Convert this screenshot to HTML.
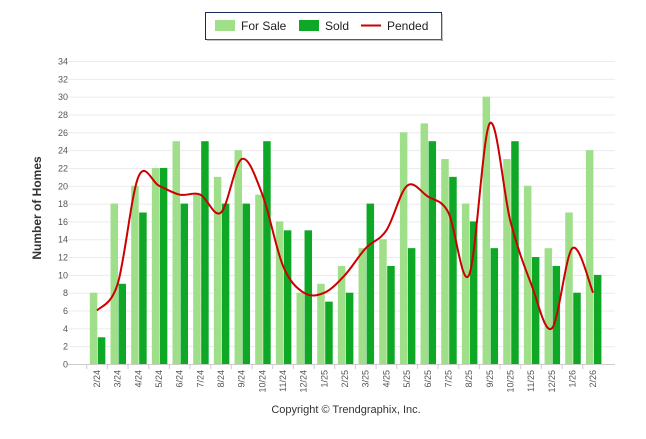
<!DOCTYPE html>
<html><head><meta charset="utf-8">
<style>
body{margin:0;background:#fff;font-family:"Liberation Sans",sans-serif;}
svg text{font-family:"Liberation Sans",sans-serif;}
</style></head>
<body>
<svg id="chart" width="646" height="434" xmlns="http://www.w3.org/2000/svg">
<g>
<rect x="205.5" y="12.5" width="236" height="27" fill="#fff" stroke="#1a2a5a" stroke-width="1"/>
<rect x="207" y="39" width="236" height="2" fill="#888" opacity="0.5"/>
<rect x="441" y="14" width="2" height="27" fill="#888" opacity="0.5"/>
<g><rect x="215" y="20" width="20" height="11" fill="#a0df8a"/><text x="241" y="30" font-size="12" fill="#222">For Sale</text></g>
<g><rect x="299" y="20" width="20" height="11" fill="#0ea826"/><text x="325" y="30" font-size="12" fill="#222">Sold</text></g>
<g><line x1="361" y1="25.5" x2="381" y2="25.5" stroke="#cc0000" stroke-width="2"/><text x="387" y="30" font-size="12" fill="#222">Pended</text></g>
</g>
<g id="grid"></g><g id="bars"></g><g id="line"></g><g id="axes"></g>
<text transform="translate(41,208) rotate(-90)" text-anchor="middle" font-size="12" font-weight="bold" fill="#333">Number of Homes</text>
<text x="346" y="413" text-anchor="middle" font-size="11" fill="#333">Copyright © Trendgraphix, Inc.</text>
</svg>
<script>
const categories=["2/24","3/24","4/24","5/24","6/24","7/24","8/24","9/24","10/24","11/24","12/24","1/25","2/25","3/25","4/25","5/25","6/25","7/25","8/25","9/25","10/25","11/25","12/25","1/26","2/26"];
const forSale=[8,18,20,22,25,19,21,24,19,16,8,9,11,13,14,26,27,23,18,30,23,20,13,17,24];
const sold=[3,9,17,22,18,25,18,18,25,15,15,7,8,18,11,13,25,21,16,13,25,12,11,8,10];
const pended=[6,9,21,20,19,19,17,23,19,11,8,8,10,13,15,20,18.8,17,10,27,16,9,4,13,8];
const yTicks=[0,2,4,6,8,10,12,14,16,18,20,22,24,26,28,30,32,34];
const NS="http://www.w3.org/2000/svg";
const X0=86.7,STEP=20.67,Y0=364,YS=(364-61)/34;
const xc=i=>X0+STEP*(i+0.5);
const y=v=>Y0-v*YS;
function mk(t,a,p){const e=document.createElementNS(NS,t);for(const k in a)e.setAttribute(k,a[k]);p.appendChild(e);return e;}
const grid=document.getElementById('grid'),axes=document.getElementById('axes'),bars=document.getElementById('bars'),line=document.getElementById('line');
yTicks.forEach(t=>{
 const g=mk('line',{x1:68,x2:615,y1:y(t)+0.5,y2:y(t)+0.5,stroke:t===0?'#ccc':'#ebebeb','stroke-width':1},grid);
 
 
 const l=mk('text',{x:68,y:y(t)+3.5,'text-anchor':'end','font-size':9,fill:'#555'},axes);
 l.textContent=t;
 
 
});
categories.forEach((c,i)=>{
 const b1=mk('rect',{x:xc(i)-7.2,y:y(forSale[i]),width:7.5,height:forSale[i]*YS,fill:'#a0df8a'},bars);
 
 
 const b2=mk('rect',{x:xc(i)+0.8,y:y(sold[i]),width:7.5,height:sold[i]*YS,fill:'#0ea826'},bars);
 
 
 const tk=mk('line',{x1:xc(i)-STEP/2,x2:xc(i)-STEP/2,y1:364,y2:369,stroke:'#ccc'},axes);
 
 
 const tx=mk('text',{transform:`translate(${xc(i)+3},370) rotate(-90)`,'text-anchor':'end','font-size':9,fill:'#555'},axes);
 tx.textContent=c;
 
 
});
const pts=pended.map((v,i)=>[xc(i),y(v)]);
let d=`M${pts[0][0]},${pts[0][1]}`;
for(let i=0;i<pts.length-1;i++){
 const p0=pts[Math.max(i-1,0)],p1=pts[i],p2=pts[i+1],p3=pts[Math.min(i+2,pts.length-1)];
 const k=1/6;
 d+=` C${p1[0]+(p2[0]-p0[0])*k},${p1[1]+(p2[1]-p0[1])*k} ${p2[0]-(p3[0]-p1[0])*k},${p2[1]-(p3[1]-p1[1])*k} ${p2[0]},${p2[1]}`;
}
const pl=mk('path',{d:d,fill:'none',stroke:'#cc0000','stroke-width':2},line);


</script>
</body></html>
